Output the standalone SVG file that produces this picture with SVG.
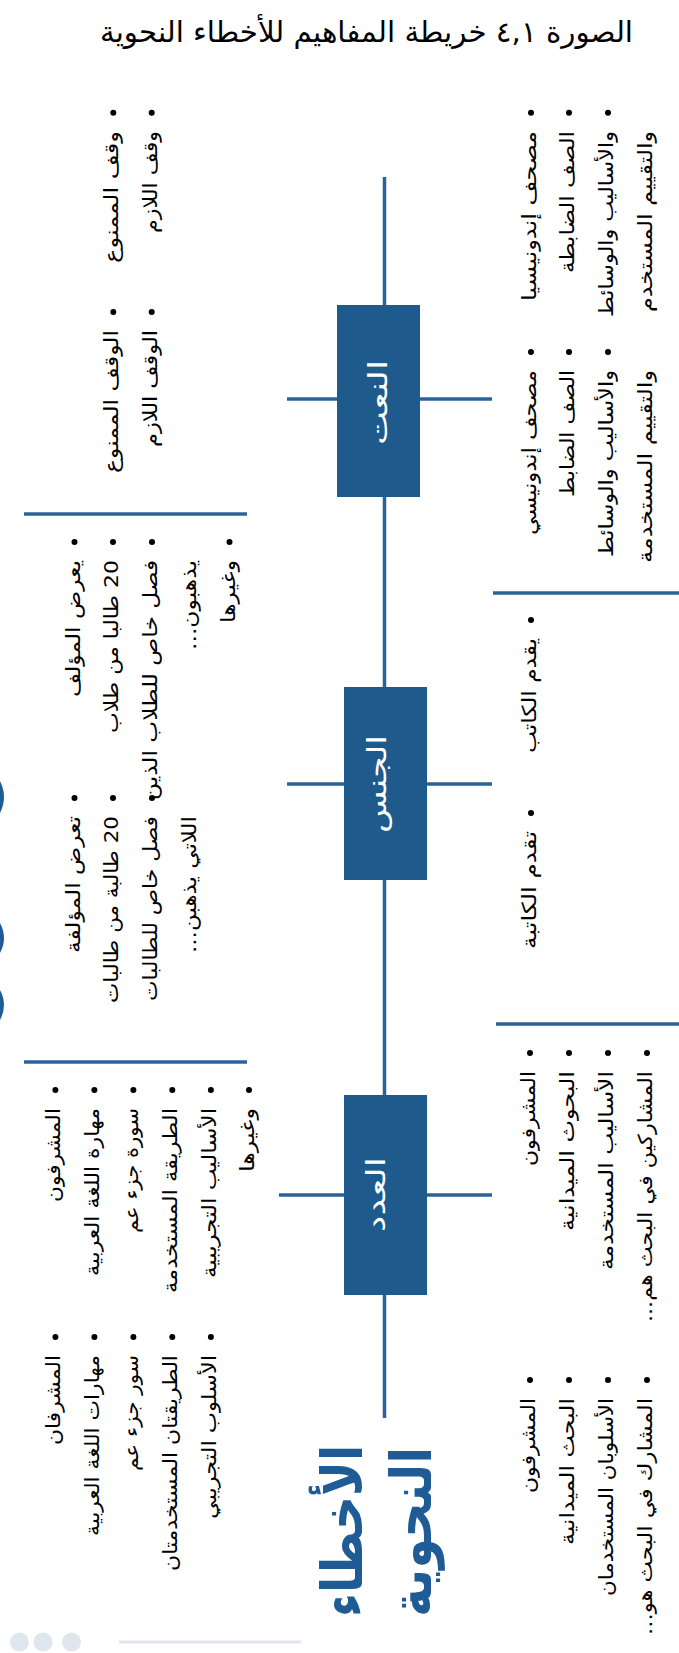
<svg xmlns="http://www.w3.org/2000/svg" width="679" height="1653" viewBox="0 0 679 1653">
<style>
.t{font-family:"DejaVu Sans",sans-serif;font-size:19.5px;fill:#000;direction:rtl;text-anchor:start}
.ttl{font-family:"DejaVu Sans",serif;font-size:29px;fill:#000;direction:rtl;text-anchor:start}
.nt{font-family:"DejaVu Sans",sans-serif;font-size:26px;fill:#fff;direction:rtl;text-anchor:middle}
.big{font-family:"DejaVu Sans",sans-serif;font-size:56px;font-weight:bold;fill:#1f5c96;direction:rtl;text-anchor:start}
.ln{stroke:#2a6399;stroke-width:3.5;fill:none}
.box{fill:#1e5a8c}
.b{fill:#000}
.dec{fill:#dfe6ee}
</style>
<rect width="679" height="1653" fill="#fff"/>
<text class="ttl" x="633" y="42" textLength="533" lengthAdjust="spacingAndGlyphs">الصورة ٤,١ خريطة المفاهيم للأخطاء النحوية</text>

<g id="connectors">
<line class="ln" x1="384.5" y1="177" x2="384.5" y2="1418"/>
<line class="ln" x1="287" y1="399" x2="492" y2="399"/>
<line class="ln" x1="287" y1="784" x2="492" y2="784"/>
<line class="ln" x1="279" y1="1195" x2="492" y2="1195"/>
<line class="ln" x1="24" y1="514" x2="247" y2="514"/>
<line class="ln" x1="493" y1="593" x2="679" y2="593"/>
<line class="ln" x1="24" y1="1062" x2="247" y2="1062"/>
<line class="ln" x1="496" y1="1024" x2="679" y2="1024"/>
</g>

<g id="node-naat">
<rect class="box" x="337" y="305" width="83" height="192"/>
<text class="nt" transform="translate(387,402.5) rotate(-90)" textLength="85" lengthAdjust="spacingAndGlyphs">النعت</text>
</g>
<g id="node-jins">
<rect class="box" x="344" y="687" width="83" height="193"/>
<text class="nt" transform="translate(386,784) rotate(-90)" textLength="98" lengthAdjust="spacingAndGlyphs">الجنس</text>
</g>
<g id="node-adad">
<rect class="box" x="344" y="1095" width="83" height="200"/>
<text class="nt" transform="translate(385,1194.5) rotate(-90)" textLength="75" lengthAdjust="spacingAndGlyphs">العدد</text>
</g>

<g id="title-main">
<text class="big" transform="translate(362,1445) rotate(-90)" textLength="172" lengthAdjust="spacingAndGlyphs">الأخطاء</text>
<text class="big" transform="translate(431,1447) rotate(-90)" textLength="170" lengthAdjust="spacingAndGlyphs">النحوية</text>
</g>

<g id="naat-left-top">
<circle class="b" cx="113.3" cy="112.7" r="3"/><text class="t" transform="translate(118.3,131) rotate(-90)" textLength="132" lengthAdjust="spacingAndGlyphs">وقف الممنوع</text>
<circle class="b" cx="151.7" cy="112.7" r="3"/><text class="t" transform="translate(156.7,131) rotate(-90)" textLength="102" lengthAdjust="spacingAndGlyphs">وقف اللازم</text>
</g>
<g id="naat-left-bottom">
<circle class="b" cx="113.3" cy="312" r="3"/><text class="t" transform="translate(118.3,330) rotate(-90)" textLength="143" lengthAdjust="spacingAndGlyphs">الوقف الممنوع</text>
<circle class="b" cx="151.7" cy="312" r="3"/><text class="t" transform="translate(156.7,330) rotate(-90)" textLength="117" lengthAdjust="spacingAndGlyphs">الوقف اللازم</text>
</g>
<g id="naat-right-top">
<circle class="b" cx="531" cy="112.7" r="3"/><text class="t" transform="translate(536,131) rotate(-90)" textLength="170" lengthAdjust="spacingAndGlyphs">مصحف إندونيسيا</text>
<circle class="b" cx="569" cy="112.7" r="3"/><text class="t" transform="translate(574,131) rotate(-90)" textLength="142" lengthAdjust="spacingAndGlyphs">الصف الضابطة</text>
<circle class="b" cx="608" cy="112.7" r="3"/><text class="t" transform="translate(613,131) rotate(-90)" textLength="186" lengthAdjust="spacingAndGlyphs">والأساليب والوسائط</text>
<text class="t" transform="translate(652,131) rotate(-90)" textLength="181" lengthAdjust="spacingAndGlyphs">والتقييم المستخدم</text>
</g>
<g id="naat-right-bottom">
<circle class="b" cx="531" cy="352" r="3"/><text class="t" transform="translate(536,370) rotate(-90)" textLength="165" lengthAdjust="spacingAndGlyphs">مصحف إندونيسي</text>
<circle class="b" cx="569" cy="352" r="3"/><text class="t" transform="translate(574,370) rotate(-90)" textLength="127" lengthAdjust="spacingAndGlyphs">الصف الضابط</text>
<circle class="b" cx="608" cy="352" r="3"/><text class="t" transform="translate(613,370) rotate(-90)" textLength="187" lengthAdjust="spacingAndGlyphs">والأساليب والوسائط</text>
<text class="t" transform="translate(652,370) rotate(-90)" textLength="193" lengthAdjust="spacingAndGlyphs">والتقييم المستخدمة</text>
</g>

<g id="jins-left-top">
<circle class="b" cx="74.5" cy="542" r="3"/><text class="t" transform="translate(79.5,560) rotate(-90)" textLength="137" lengthAdjust="spacingAndGlyphs">يعرض المؤلف</text>
<circle class="b" cx="113" cy="542" r="3"/><text class="t" transform="translate(118,560) rotate(-90)" textLength="173" lengthAdjust="spacingAndGlyphs">20 طالبا من طلاب</text>
<circle class="b" cx="152" cy="542" r="3"/><text class="t" transform="translate(157,560) rotate(-90)" textLength="240" lengthAdjust="spacingAndGlyphs">فصل خاص للطلاب الذين</text>
<text class="t" transform="translate(195.5,560) rotate(-90)" textLength="90" lengthAdjust="spacingAndGlyphs">يذهبون...</text>
<circle class="b" cx="229.5" cy="542" r="3"/><text class="t" transform="translate(234.5,560) rotate(-90)" textLength="63" lengthAdjust="spacingAndGlyphs">وغيرها</text>
</g>
<g id="jins-left-bottom">
<circle class="b" cx="74.5" cy="798" r="3"/><text class="t" transform="translate(79.5,816) rotate(-90)" textLength="137" lengthAdjust="spacingAndGlyphs">تعرض المؤلفة</text>
<circle class="b" cx="113" cy="798" r="3"/><text class="t" transform="translate(118,816) rotate(-90)" textLength="187" lengthAdjust="spacingAndGlyphs">20 طالبة من طالبات</text>
<circle class="b" cx="152" cy="798" r="3"/><text class="t" transform="translate(157,816) rotate(-90)" textLength="185" lengthAdjust="spacingAndGlyphs">فصل خاص للطالبات</text>
<text class="t" transform="translate(195.5,816) rotate(-90)" textLength="137" lengthAdjust="spacingAndGlyphs">اللاتي يذهبن...</text>
</g>
<g id="jins-right">
<circle class="b" cx="531" cy="620" r="3"/><text class="t" transform="translate(536,638) rotate(-90)" textLength="115" lengthAdjust="spacingAndGlyphs">يقدم الكاتب</text>
<circle class="b" cx="531" cy="813" r="3"/><text class="t" transform="translate(536,831) rotate(-90)" textLength="118" lengthAdjust="spacingAndGlyphs">تقدم الكاتبة</text>
</g>

<g id="adad-left-top">
<circle class="b" cx="55.4" cy="1090" r="3"/><text class="t" transform="translate(60.4,1108) rotate(-90)" textLength="94" lengthAdjust="spacingAndGlyphs">المشرفون</text>
<circle class="b" cx="94.4" cy="1090" r="3"/><text class="t" transform="translate(99.4,1108) rotate(-90)" textLength="168" lengthAdjust="spacingAndGlyphs">مهارة اللغة العربية</text>
<circle class="b" cx="133.4" cy="1090" r="3"/><text class="t" transform="translate(138.4,1108) rotate(-90)" textLength="125" lengthAdjust="spacingAndGlyphs">سورة جزء عم</text>
<circle class="b" cx="172.3" cy="1090" r="3"/><text class="t" transform="translate(177.3,1108) rotate(-90)" textLength="185" lengthAdjust="spacingAndGlyphs">الطريقة المستخدمة</text>
<circle class="b" cx="210.9" cy="1090" r="3"/><text class="t" transform="translate(215.9,1108) rotate(-90)" textLength="170" lengthAdjust="spacingAndGlyphs">الأساليب التجريبية</text>
<circle class="b" cx="249" cy="1090" r="3"/><text class="t" transform="translate(254,1108) rotate(-90)" textLength="64" lengthAdjust="spacingAndGlyphs">وغيرها</text>
</g>
<g id="adad-left-bottom">
<circle class="b" cx="55.4" cy="1337" r="3"/><text class="t" transform="translate(60.4,1355) rotate(-90)" textLength="90" lengthAdjust="spacingAndGlyphs">المشرفان</text>
<circle class="b" cx="94.4" cy="1337" r="3"/><text class="t" transform="translate(99.4,1355) rotate(-90)" textLength="181" lengthAdjust="spacingAndGlyphs">مهارات اللغة العربية</text>
<circle class="b" cx="133.4" cy="1337" r="3"/><text class="t" transform="translate(138.4,1355) rotate(-90)" textLength="116" lengthAdjust="spacingAndGlyphs">سور جزء عم</text>
<circle class="b" cx="172.3" cy="1337" r="3"/><text class="t" transform="translate(177.3,1355) rotate(-90)" textLength="216" lengthAdjust="spacingAndGlyphs">الطريقتان المستخدمتان</text>
<circle class="b" cx="210.9" cy="1337" r="3"/><text class="t" transform="translate(215.9,1355) rotate(-90)" textLength="164" lengthAdjust="spacingAndGlyphs">الأسلوب التجريبي</text>
</g>
<g id="adad-right-top">
<circle class="b" cx="530" cy="1053" r="3"/><text class="t" transform="translate(535,1071) rotate(-90)" textLength="95" lengthAdjust="spacingAndGlyphs">المشرفون</text>
<circle class="b" cx="569" cy="1053" r="3"/><text class="t" transform="translate(574,1071) rotate(-90)" textLength="160" lengthAdjust="spacingAndGlyphs">البحوث الميدانية</text>
<circle class="b" cx="608" cy="1053" r="3"/><text class="t" transform="translate(613,1071) rotate(-90)" textLength="199" lengthAdjust="spacingAndGlyphs">الأساليب المستخدمة</text>
<circle class="b" cx="647" cy="1053" r="3"/><text class="t" transform="translate(652,1071) rotate(-90)" textLength="251" lengthAdjust="spacingAndGlyphs">المشاركين في البحث هم...</text>
</g>
<g id="adad-right-bottom">
<circle class="b" cx="530" cy="1380" r="3"/><text class="t" transform="translate(535,1398) rotate(-90)" textLength="95" lengthAdjust="spacingAndGlyphs">المشرفون</text>
<circle class="b" cx="569" cy="1380" r="3"/><text class="t" transform="translate(574,1398) rotate(-90)" textLength="147" lengthAdjust="spacingAndGlyphs">البحث الميدانية</text>
<circle class="b" cx="608" cy="1380" r="3"/><text class="t" transform="translate(613,1398) rotate(-90)" textLength="198" lengthAdjust="spacingAndGlyphs">الأسلوبان المستخدمان</text>
<circle class="b" cx="647" cy="1380" r="3"/><text class="t" transform="translate(652,1398) rotate(-90)" textLength="237" lengthAdjust="spacingAndGlyphs">المشارك في البحث هو...</text>
</g>

<g id="edge-fragments" fill="#1f5c96">
<path d="M0,781 Q8,797 0,813 Z"/>
<path d="M0,923 Q8,938 0,953 Z"/>
<path d="M0,990 Q8,1005 0,1020 Z"/>
</g>

<g id="footer">
<circle class="dec" cx="19.5" cy="1642" r="9.5"/>
<circle class="dec" cx="43" cy="1642" r="9.5"/>
<circle class="dec" cx="71.5" cy="1642" r="9.5"/>
<line x1="119" y1="1642" x2="301" y2="1642" stroke="#dfe6ee" stroke-width="3"/>
</g>
</svg>
